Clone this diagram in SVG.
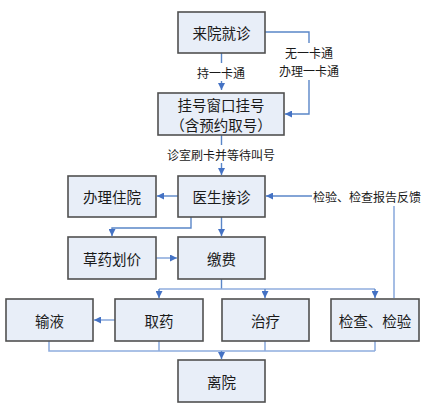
<svg xmlns="http://www.w3.org/2000/svg" width="434" height="407" viewBox="0 0 434 407">
<style>
.box{fill:#e8eef8;stroke:#505050;stroke-width:1.6}
.t{font-family:"Noto Sans CJK SC","Noto Sans CJK JP",sans-serif;font-size:14.5px;fill:#1a1a1a;text-anchor:middle;dominant-baseline:central}
.l{font-family:"Noto Sans CJK SC","Noto Sans CJK JP",sans-serif;font-size:12px;fill:#1a1a1a;text-anchor:middle;dominant-baseline:central}
.c{fill:none;stroke:#5a86c8;stroke-width:1.4}
.h{fill:none;stroke:#8fadde;stroke-width:1.6}
</style>
<defs>
<marker id="a" viewBox="0 0 10 10" refX="10" refY="5" markerWidth="7" markerHeight="7" markerUnits="userSpaceOnUse" orient="auto">
<path d="M0,0 L10,5 L0,10 z" fill="#4472c4"/>
</marker>
</defs>
<rect width="434" height="407" fill="#ffffff"/>
<g id="connectors">
<path class="c" d="M221.5,53 V63"/>
<path class="c" d="M221.5,81 V90" marker-end="url(#a)"/>
<path class="c" d="M265,32 H309 V43"/>
<path class="c" d="M309,80 V114 H285" marker-end="url(#a)"/>
<path class="c" d="M221.5,135 V145"/>
<path class="c" d="M221.5,163 V175" marker-end="url(#a)"/>
<path class="c" d="M178,196 H157" marker-end="url(#a)"/>
<path class="c" d="M312,196 H266" marker-end="url(#a)"/>
<path class="h" d="M394,206 V298"/>
<path class="c" d="M191,217 V228 H112 V236" marker-end="url(#a)"/>
<path class="c" d="M221.5,217 V236" marker-end="url(#a)"/>
<path class="h" d="M156,258 H177" marker-end="url(#a)"/>
<path class="c" d="M221.5,279 V289"/>
<path class="h" d="M159,289 H375"/>
<path class="c" d="M159,289 V298" marker-end="url(#a)"/>
<path class="c" d="M265,289 V298" marker-end="url(#a)"/>
<path class="c" d="M375,289 V298" marker-end="url(#a)"/>
<path class="h" d="M115,320 H94" marker-end="url(#a)"/>
<path class="h" d="M49,341 V351 H375 M159,341 V351 M265,341 V351 M375,341 V351"/>
<path class="c" d="M221.5,351 V359" marker-end="url(#a)"/>
<text class="l" x="221" y="72">持一卡通</text>
<text class="l" x="309" y="52">无一卡通</text>
<text class="l" x="309" y="70">办理一卡通</text>
<text class="l" x="221" y="154">诊室刷卡并等待叫号</text>
<text class="l" x="367" y="196">检验、检查报告反馈</text>
</g>
<g id="n1"><rect class="box" x="178" y="12" width="87" height="41"/><text class="t" x="221.5" y="32.5">来院就诊</text></g>
<g id="n2"><rect class="box" x="158" y="93" width="126" height="42"/><text class="t" x="221" y="104">挂号窗口挂号</text><text class="t" x="221" y="124">（含预约取号）</text></g>
<g id="n3"><rect class="box" x="178" y="176" width="87" height="41"/><text class="t" x="221.5" y="196.5">医生接诊</text></g>
<g id="n4"><rect class="box" x="68" y="176" width="88" height="41"/><text class="t" x="112" y="196.5">办理住院</text></g>
<g id="n5"><rect class="box" x="68" y="237" width="88" height="42"/><text class="t" x="112" y="258">草药划价</text></g>
<g id="n6"><rect class="box" x="178" y="237" width="87" height="42"/><text class="t" x="221.5" y="258">缴费</text></g>
<g id="n7"><rect class="box" x="6" y="299" width="87" height="42"/><text class="t" x="49.5" y="320">输液</text></g>
<g id="n8"><rect class="box" x="115" y="299" width="88" height="42"/><text class="t" x="159" y="320">取药</text></g>
<g id="n9"><rect class="box" x="222" y="299" width="87" height="42"/><text class="t" x="265.5" y="320">治疗</text></g>
<g id="n10"><rect class="box" x="331" y="299" width="88" height="42"/><text class="t" x="375" y="320">检查、检验</text></g>
<g id="n11"><rect class="box" x="178" y="360" width="87" height="42"/><text class="t" x="221.5" y="381">离院</text></g>
</svg>
